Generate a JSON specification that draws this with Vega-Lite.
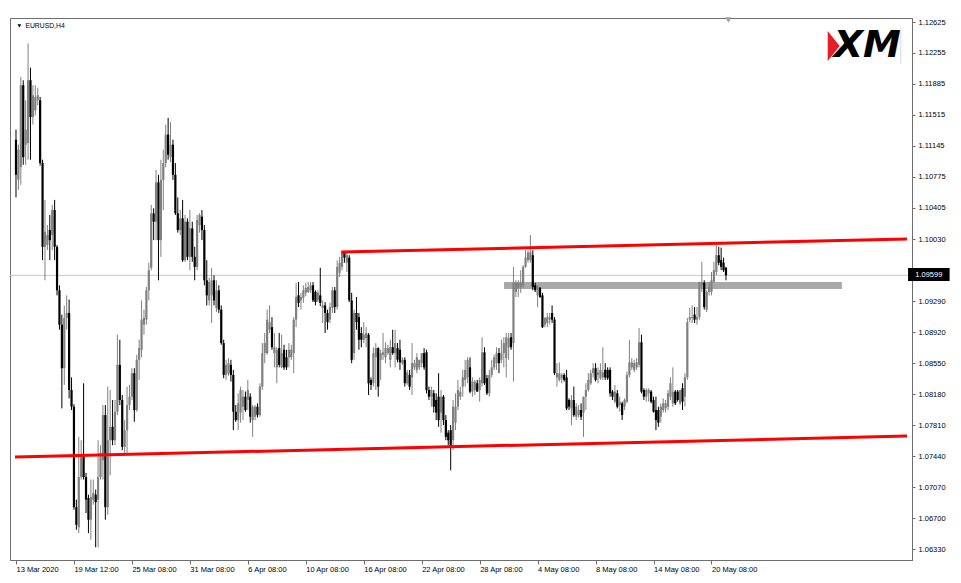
{
  "$schema": "https://vega.github.io/schema/vega-lite/v6.json",
  "width": 902,
  "height": 542,
  "autosize": "none",
  "padding": {"left": 10, "top": 18, "right": 49, "bottom": 23},
  "background": "white",
  "config": {
    "view": {"stroke": "#6e6e6e", "strokeWidth": 1},
    "font": "Liberation Sans",
    "axis": {"labelOverlap": false, "labelFlush": false, "grid": false, "title": null, "labelFont": "Liberation Sans", "labelFontSize": 7.5, "labelColor": "#000000", "domainColor": "#6e6e6e", "tickColor": "#6e6e6e"}
  },
  "datasets": {
    "candles": [
      {"i":0,"o":1.1122,"h":1.1134,"l":1.1053,"c":1.1080},
      {"i":1,"o":1.1074,"h":1.1116,"l":1.1062,"c":1.1110},
      {"i":2,"o":1.1089,"h":1.1197,"l":1.1068,"c":1.1187},
      {"i":3,"o":1.1187,"h":1.1193,"l":1.1092,"c":1.1101},
      {"i":4,"o":1.1116,"h":1.1169,"l":1.1092,"c":1.1134},
      {"i":5,"o":1.1118,"h":1.1237,"l":1.1098,"c":1.1193},
      {"i":6,"o":1.1193,"h":1.1208,"l":1.1098,"c":1.1149},
      {"i":7,"o":1.1149,"h":1.1187,"l":1.1140,"c":1.1175},
      {"i":8,"o":1.1157,"h":1.1187,"l":1.1151,"c":1.1173},
      {"i":9,"o":1.1169,"h":1.1184,"l":1.1163,"c":1.1175},
      {"i":10,"o":1.1169,"h":1.1173,"l":1.1091,"c":1.1094},
      {"i":11,"o":1.1094,"h":1.1098,"l":1.0978,"c":1.0994},
      {"i":12,"o":1.0994,"h":1.1050,"l":1.0954,"c":1.1012},
      {"i":13,"o":1.0996,"h":1.1020,"l":1.0990,"c":1.1008},
      {"i":14,"o":1.1014,"h":1.1032,"l":1.0978,"c":1.1002},
      {"i":15,"o":1.1008,"h":1.1044,"l":1.0990,"c":1.1038},
      {"i":16,"o":1.1038,"h":1.1050,"l":1.0978,"c":1.0994},
      {"i":17,"o":1.0994,"h":1.0996,"l":1.0936,"c":1.0942},
      {"i":18,"o":1.0942,"h":1.0948,"l":1.0895,"c":1.0901},
      {"i":19,"o":1.0901,"h":1.0913,"l":1.0801,"c":1.0849},
      {"i":20,"o":1.0849,"h":1.0924,"l":1.0829,"c":1.0909},
      {"i":21,"o":1.0909,"h":1.0936,"l":1.0895,"c":1.0915},
      {"i":22,"o":1.0915,"h":1.0931,"l":1.0813,"c":1.0823},
      {"i":23,"o":1.0823,"h":1.0838,"l":1.0799,"c":1.0803},
      {"i":24,"o":1.0803,"h":1.0806,"l":1.0680,"c":1.0683},
      {"i":25,"o":1.0683,"h":1.0692,"l":1.0656,"c":1.0662},
      {"i":26,"o":1.0659,"h":1.0767,"l":1.0652,"c":1.0719},
      {"i":27,"o":1.0719,"h":1.0763,"l":1.0716,"c":1.0745},
      {"i":28,"o":1.0745,"h":1.0831,"l":1.0716,"c":1.0719},
      {"i":29,"o":1.0719,"h":1.0724,"l":1.0676,"c":1.0692},
      {"i":30,"o":1.0694,"h":1.0698,"l":1.0652,"c":1.0668},
      {"i":31,"o":1.0668,"h":1.0716,"l":1.0644,"c":1.0695},
      {"i":32,"o":1.0692,"h":1.0716,"l":1.0686,"c":1.0700},
      {"i":33,"o":1.0698,"h":1.0704,"l":1.0635,"c":1.0689},
      {"i":34,"o":1.0692,"h":1.0763,"l":1.0635,"c":1.0719},
      {"i":35,"o":1.0719,"h":1.0757,"l":1.0716,"c":1.0748},
      {"i":36,"o":1.0739,"h":1.0805,"l":1.0716,"c":1.0793},
      {"i":37,"o":1.0793,"h":1.0805,"l":1.0668,"c":1.0683},
      {"i":38,"o":1.0683,"h":1.0827,"l":1.0674,"c":1.0763},
      {"i":39,"o":1.0763,"h":1.0823,"l":1.0721,"c":1.0779},
      {"i":40,"o":1.0779,"h":1.0811,"l":1.0757,"c":1.0763},
      {"i":41,"o":1.0763,"h":1.0811,"l":1.0757,"c":1.0797},
      {"i":42,"o":1.0797,"h":1.0889,"l":1.0793,"c":1.0853},
      {"i":43,"o":1.0853,"h":1.0883,"l":1.0805,"c":1.0811},
      {"i":44,"o":1.0811,"h":1.0817,"l":1.0751,"c":1.0755},
      {"i":45,"o":1.0755,"h":1.0787,"l":1.0745,"c":1.0775},
      {"i":46,"o":1.0775,"h":1.0827,"l":1.0748,"c":1.0805},
      {"i":47,"o":1.0805,"h":1.0829,"l":1.0799,"c":1.0815},
      {"i":48,"o":1.0815,"h":1.0849,"l":1.0811,"c":1.0843},
      {"i":49,"o":1.0843,"h":1.0849,"l":1.0785,"c":1.0799},
      {"i":50,"o":1.0799,"h":1.0865,"l":1.0797,"c":1.0859},
      {"i":51,"o":1.0859,"h":1.0883,"l":1.0835,"c":1.0873},
      {"i":52,"o":1.0871,"h":1.0930,"l":1.0862,"c":1.0907},
      {"i":53,"o":1.0901,"h":1.0919,"l":1.0889,"c":1.0909},
      {"i":54,"o":1.0907,"h":1.0946,"l":1.0901,"c":1.0942},
      {"i":55,"o":1.0942,"h":1.0975,"l":1.0930,"c":1.0966},
      {"i":56,"o":1.0969,"h":1.1044,"l":1.0966,"c":1.1034},
      {"i":57,"o":1.1034,"h":1.1040,"l":1.1002,"c":1.1024},
      {"i":58,"o":1.1024,"h":1.1086,"l":1.1002,"c":1.1071},
      {"i":59,"o":1.1071,"h":1.1080,"l":1.0954,"c":1.1002},
      {"i":60,"o":1.1002,"h":1.1098,"l":1.0982,"c":1.1074},
      {"i":61,"o":1.1074,"h":1.1110,"l":1.1038,"c":1.1094},
      {"i":62,"o":1.1094,"h":1.1140,"l":1.1089,"c":1.1128},
      {"i":63,"o":1.1128,"h":1.1148,"l":1.1098,"c":1.1104},
      {"i":64,"o":1.1101,"h":1.1143,"l":1.1095,"c":1.1116},
      {"i":65,"o":1.1116,"h":1.1122,"l":1.1074,"c":1.1080},
      {"i":66,"o":1.1080,"h":1.1094,"l":1.1032,"c":1.1034},
      {"i":67,"o":1.1034,"h":1.1053,"l":1.1011,"c":1.1014},
      {"i":68,"o":1.1014,"h":1.1038,"l":1.1008,"c":1.1028},
      {"i":69,"o":1.1028,"h":1.1050,"l":1.0976,"c":1.0978},
      {"i":70,"o":1.0978,"h":1.1032,"l":1.0976,"c":1.1024},
      {"i":71,"o":1.1024,"h":1.1028,"l":1.0978,"c":1.0982},
      {"i":72,"o":1.0982,"h":1.1038,"l":1.0966,"c":1.1016},
      {"i":73,"o":1.1016,"h":1.1024,"l":1.0976,"c":1.0982},
      {"i":74,"o":1.0982,"h":1.0994,"l":1.0954,"c":1.0970},
      {"i":75,"o":1.0970,"h":1.1032,"l":1.0966,"c":1.1026},
      {"i":76,"o":1.1020,"h":1.1034,"l":1.1011,"c":1.1032},
      {"i":77,"o":1.1030,"h":1.1038,"l":1.1002,"c":1.1014},
      {"i":78,"o":1.1014,"h":1.1020,"l":1.0948,"c":1.0954},
      {"i":79,"o":1.0954,"h":1.0978,"l":1.0924,"c":1.0936},
      {"i":80,"o":1.0930,"h":1.0957,"l":1.0924,"c":1.0952},
      {"i":81,"o":1.0936,"h":1.0969,"l":1.0903,"c":1.0954},
      {"i":82,"o":1.0954,"h":1.0960,"l":1.0924,"c":1.0930},
      {"i":83,"o":1.0921,"h":1.0954,"l":1.0916,"c":1.0942},
      {"i":84,"o":1.0942,"h":1.0948,"l":1.0915,"c":1.0919},
      {"i":85,"o":1.0919,"h":1.0924,"l":1.0877,"c":1.0879},
      {"i":86,"o":1.0879,"h":1.0883,"l":1.0837,"c":1.0841},
      {"i":87,"o":1.0841,"h":1.0859,"l":1.0835,"c":1.0853},
      {"i":88,"o":1.0843,"h":1.0861,"l":1.0840,"c":1.0855},
      {"i":89,"o":1.0853,"h":1.0859,"l":1.0833,"c":1.0841},
      {"i":90,"o":1.0841,"h":1.0847,"l":1.0775,"c":1.0797},
      {"i":91,"o":1.0797,"h":1.0805,"l":1.0785,"c":1.0787},
      {"i":92,"o":1.0787,"h":1.0819,"l":1.0775,"c":1.0807},
      {"i":93,"o":1.0796,"h":1.0827,"l":1.0784,"c":1.0823},
      {"i":94,"o":1.0803,"h":1.0823,"l":1.0787,"c":1.0815},
      {"i":95,"o":1.0815,"h":1.0821,"l":1.0797,"c":1.0799},
      {"i":96,"o":1.0811,"h":1.0835,"l":1.0799,"c":1.0823},
      {"i":97,"o":1.0815,"h":1.0819,"l":1.0784,"c":1.0791},
      {"i":98,"o":1.0787,"h":1.0805,"l":1.0767,"c":1.0803},
      {"i":99,"o":1.0791,"h":1.0805,"l":1.0787,"c":1.0803},
      {"i":100,"o":1.0803,"h":1.0807,"l":1.0790,"c":1.0793},
      {"i":101,"o":1.0793,"h":1.0831,"l":1.0791,"c":1.0827},
      {"i":102,"o":1.0827,"h":1.0879,"l":1.0823,"c":1.0867},
      {"i":103,"o":1.0867,"h":1.0891,"l":1.0855,"c":1.0879},
      {"i":104,"o":1.0867,"h":1.0919,"l":1.0865,"c":1.0907},
      {"i":105,"o":1.0895,"h":1.0924,"l":1.0891,"c":1.0904},
      {"i":106,"o":1.0898,"h":1.0910,"l":1.0871,"c":1.0874},
      {"i":107,"o":1.0867,"h":1.0891,"l":1.0850,"c":1.0874},
      {"i":108,"o":1.0850,"h":1.0874,"l":1.0831,"c":1.0871},
      {"i":109,"o":1.0873,"h":1.0891,"l":1.0850,"c":1.0853},
      {"i":110,"o":1.0850,"h":1.0889,"l":1.0849,"c":1.0867},
      {"i":111,"o":1.0871,"h":1.0877,"l":1.0847,"c":1.0850},
      {"i":112,"o":1.0862,"h":1.0871,"l":1.0847,"c":1.0850},
      {"i":113,"o":1.0862,"h":1.0879,"l":1.0850,"c":1.0871},
      {"i":114,"o":1.0862,"h":1.0877,"l":1.0859,"c":1.0871},
      {"i":115,"o":1.0867,"h":1.0910,"l":1.0843,"c":1.0907},
      {"i":116,"o":1.0907,"h":1.0951,"l":1.0898,"c":1.0934},
      {"i":117,"o":1.0936,"h":1.0952,"l":1.0922,"c":1.0927},
      {"i":118,"o":1.0930,"h":1.0939,"l":1.0919,"c":1.0934},
      {"i":119,"o":1.0933,"h":1.0948,"l":1.0927,"c":1.0942},
      {"i":120,"o":1.0939,"h":1.0951,"l":1.0935,"c":1.0945},
      {"i":121,"o":1.0940,"h":1.0952,"l":1.0939,"c":1.0946},
      {"i":122,"o":1.0942,"h":1.0952,"l":1.0939,"c":1.0948},
      {"i":123,"o":1.0948,"h":1.0952,"l":1.0928,"c":1.0930},
      {"i":124,"o":1.0940,"h":1.0942,"l":1.0924,"c":1.0928},
      {"i":125,"o":1.0930,"h":1.0942,"l":1.0928,"c":1.0939},
      {"i":126,"o":1.0936,"h":1.0969,"l":1.0923,"c":1.0927},
      {"i":127,"o":1.0921,"h":1.0930,"l":1.0903,"c":1.0924},
      {"i":128,"o":1.0924,"h":1.0928,"l":1.0891,"c":1.0915},
      {"i":129,"o":1.0915,"h":1.0919,"l":1.0895,"c":1.0904},
      {"i":130,"o":1.0907,"h":1.0927,"l":1.0903,"c":1.0922},
      {"i":131,"o":1.0921,"h":1.0946,"l":1.0915,"c":1.0942},
      {"i":132,"o":1.0942,"h":1.0946,"l":1.0915,"c":1.0922},
      {"i":133,"o":1.0922,"h":1.0978,"l":1.0919,"c":1.0970},
      {"i":134,"o":1.0963,"h":1.0982,"l":1.0958,"c":1.0975},
      {"i":135,"o":1.0970,"h":1.0988,"l":1.0966,"c":1.0987},
      {"i":136,"o":1.0987,"h":1.0988,"l":1.0975,"c":1.0981},
      {"i":137,"o":1.0975,"h":1.0987,"l":1.0964,"c":1.0984},
      {"i":138,"o":1.0981,"h":1.0984,"l":1.0928,"c":1.0930},
      {"i":139,"o":1.0930,"h":1.0939,"l":1.0855,"c":1.0859},
      {"i":140,"o":1.0867,"h":1.0919,"l":1.0859,"c":1.0915},
      {"i":141,"o":1.0915,"h":1.0934,"l":1.0895,"c":1.0904},
      {"i":142,"o":1.0910,"h":1.0915,"l":1.0871,"c":1.0883},
      {"i":143,"o":1.0891,"h":1.0898,"l":1.0874,"c":1.0883},
      {"i":144,"o":1.0883,"h":1.0904,"l":1.0879,"c":1.0889},
      {"i":145,"o":1.0885,"h":1.0898,"l":1.0874,"c":1.0891},
      {"i":146,"o":1.0889,"h":1.0891,"l":1.0817,"c":1.0831},
      {"i":147,"o":1.0835,"h":1.0838,"l":1.0823,"c":1.0829},
      {"i":148,"o":1.0831,"h":1.0874,"l":1.0827,"c":1.0867},
      {"i":149,"o":1.0862,"h":1.0879,"l":1.0823,"c":1.0873},
      {"i":150,"o":1.0873,"h":1.0874,"l":1.0815,"c":1.0827},
      {"i":151,"o":1.0859,"h":1.0871,"l":1.0835,"c":1.0867},
      {"i":152,"o":1.0865,"h":1.0891,"l":1.0859,"c":1.0868},
      {"i":153,"o":1.0862,"h":1.0880,"l":1.0855,"c":1.0873},
      {"i":154,"o":1.0867,"h":1.0877,"l":1.0865,"c":1.0873},
      {"i":155,"o":1.0859,"h":1.0883,"l":1.0850,"c":1.0874},
      {"i":156,"o":1.0874,"h":1.0895,"l":1.0865,"c":1.0867},
      {"i":157,"o":1.0867,"h":1.0895,"l":1.0850,"c":1.0879},
      {"i":158,"o":1.0873,"h":1.0879,"l":1.0856,"c":1.0859},
      {"i":159,"o":1.0871,"h":1.0883,"l":1.0847,"c":1.0856},
      {"i":160,"o":1.0855,"h":1.0862,"l":1.0853,"c":1.0859},
      {"i":161,"o":1.0859,"h":1.0862,"l":1.0827,"c":1.0831},
      {"i":162,"o":1.0831,"h":1.0847,"l":1.0829,"c":1.0844},
      {"i":163,"o":1.0841,"h":1.0847,"l":1.0823,"c":1.0827},
      {"i":164,"o":1.0838,"h":1.0879,"l":1.0817,"c":1.0855},
      {"i":165,"o":1.0850,"h":1.0859,"l":1.0847,"c":1.0855},
      {"i":166,"o":1.0847,"h":1.0867,"l":1.0843,"c":1.0862},
      {"i":167,"o":1.0850,"h":1.0859,"l":1.0847,"c":1.0859},
      {"i":168,"o":1.0855,"h":1.0867,"l":1.0850,"c":1.0867},
      {"i":169,"o":1.0867,"h":1.0873,"l":1.0847,"c":1.0850},
      {"i":170,"o":1.0868,"h":1.0871,"l":1.0819,"c":1.0823},
      {"i":171,"o":1.0823,"h":1.0827,"l":1.0811,"c":1.0815},
      {"i":172,"o":1.0815,"h":1.0827,"l":1.0803,"c":1.0823},
      {"i":173,"o":1.0819,"h":1.0823,"l":1.0796,"c":1.0803},
      {"i":174,"o":1.0811,"h":1.0819,"l":1.0787,"c":1.0796},
      {"i":175,"o":1.0815,"h":1.0843,"l":1.0779,"c":1.0787},
      {"i":176,"o":1.0796,"h":1.0823,"l":1.0772,"c":1.0815},
      {"i":177,"o":1.0815,"h":1.0817,"l":1.0781,"c":1.0787},
      {"i":178,"o":1.0787,"h":1.0793,"l":1.0763,"c":1.0767},
      {"i":179,"o":1.0772,"h":1.0775,"l":1.0757,"c":1.0763},
      {"i":180,"o":1.0775,"h":1.0781,"l":1.0727,"c":1.0755},
      {"i":181,"o":1.0763,"h":1.0811,"l":1.0751,"c":1.0803},
      {"i":182,"o":1.0784,"h":1.0819,"l":1.0775,"c":1.0803},
      {"i":183,"o":1.0803,"h":1.0835,"l":1.0799,"c":1.0823},
      {"i":184,"o":1.0815,"h":1.0827,"l":1.0811,"c":1.0821},
      {"i":185,"o":1.0827,"h":1.0847,"l":1.0815,"c":1.0838},
      {"i":186,"o":1.0835,"h":1.0859,"l":1.0827,"c":1.0847},
      {"i":187,"o":1.0838,"h":1.0862,"l":1.0831,"c":1.0859},
      {"i":188,"o":1.0850,"h":1.0862,"l":1.0819,"c":1.0821},
      {"i":189,"o":1.0821,"h":1.0838,"l":1.0815,"c":1.0833},
      {"i":190,"o":1.0823,"h":1.0835,"l":1.0817,"c":1.0833},
      {"i":191,"o":1.0831,"h":1.0835,"l":1.0821,"c":1.0821},
      {"i":192,"o":1.0823,"h":1.0838,"l":1.0809,"c":1.0835},
      {"i":193,"o":1.0831,"h":1.0886,"l":1.0827,"c":1.0868},
      {"i":194,"o":1.0868,"h":1.0874,"l":1.0829,"c":1.0831},
      {"i":195,"o":1.0837,"h":1.0841,"l":1.0817,"c":1.0819},
      {"i":196,"o":1.0819,"h":1.0847,"l":1.0815,"c":1.0841},
      {"i":197,"o":1.0841,"h":1.0859,"l":1.0838,"c":1.0850},
      {"i":198,"o":1.0850,"h":1.0865,"l":1.0847,"c":1.0862},
      {"i":199,"o":1.0855,"h":1.0874,"l":1.0847,"c":1.0867},
      {"i":200,"o":1.0867,"h":1.0873,"l":1.0843,"c":1.0855},
      {"i":201,"o":1.0859,"h":1.0883,"l":1.0855,"c":1.0867},
      {"i":202,"o":1.0867,"h":1.0886,"l":1.0850,"c":1.0879},
      {"i":203,"o":1.0861,"h":1.0891,"l":1.0838,"c":1.0886},
      {"i":204,"o":1.0874,"h":1.0891,"l":1.0859,"c":1.0885},
      {"i":205,"o":1.0886,"h":1.0891,"l":1.0871,"c":1.0874},
      {"i":206,"o":1.0879,"h":1.0970,"l":1.0833,"c":1.0951},
      {"i":207,"o":1.0940,"h":1.0954,"l":1.0934,"c":1.0951},
      {"i":208,"o":1.0945,"h":1.0954,"l":1.0934,"c":1.0951},
      {"i":209,"o":1.0946,"h":1.0966,"l":1.0939,"c":1.0951},
      {"i":210,"o":1.0948,"h":1.0972,"l":1.0945,"c":1.0970},
      {"i":211,"o":1.0970,"h":1.0990,"l":1.0969,"c":1.0981},
      {"i":212,"o":1.0978,"h":1.0990,"l":1.0975,"c":1.0987},
      {"i":213,"o":1.0978,"h":1.1008,"l":1.0975,"c":1.0988},
      {"i":214,"o":1.0984,"h":1.0990,"l":1.0942,"c":1.0946},
      {"i":215,"o":1.0948,"h":1.0951,"l":1.0940,"c":1.0942},
      {"i":216,"o":1.0936,"h":1.0948,"l":1.0922,"c":1.0946},
      {"i":217,"o":1.0945,"h":1.0946,"l":1.0933,"c":1.0934},
      {"i":218,"o":1.0936,"h":1.0939,"l":1.0897,"c":1.0898},
      {"i":219,"o":1.0901,"h":1.0910,"l":1.0898,"c":1.0909},
      {"i":220,"o":1.0903,"h":1.0915,"l":1.0898,"c":1.0910},
      {"i":221,"o":1.0907,"h":1.0915,"l":1.0901,"c":1.0910},
      {"i":222,"o":1.0915,"h":1.0924,"l":1.0903,"c":1.0907},
      {"i":223,"o":1.0907,"h":1.0910,"l":1.0841,"c":1.0843},
      {"i":224,"o":1.0838,"h":1.0855,"l":1.0827,"c":1.0843},
      {"i":225,"o":1.0835,"h":1.0856,"l":1.0833,"c":1.0843},
      {"i":226,"o":1.0837,"h":1.0843,"l":1.0831,"c":1.0841},
      {"i":227,"o":1.0841,"h":1.0843,"l":1.0833,"c":1.0835},
      {"i":228,"o":1.0838,"h":1.0847,"l":1.0799,"c":1.0801},
      {"i":229,"o":1.0811,"h":1.0813,"l":1.0799,"c":1.0803},
      {"i":230,"o":1.0801,"h":1.0817,"l":1.0781,"c":1.0811},
      {"i":231,"o":1.0811,"h":1.0827,"l":1.0791,"c":1.0793},
      {"i":232,"o":1.0791,"h":1.0807,"l":1.0787,"c":1.0803},
      {"i":233,"o":1.0793,"h":1.0805,"l":1.0790,"c":1.0799},
      {"i":234,"o":1.0799,"h":1.0807,"l":1.0787,"c":1.0791},
      {"i":235,"o":1.0796,"h":1.0815,"l":1.0767,"c":1.0815},
      {"i":236,"o":1.0815,"h":1.0831,"l":1.0799,"c":1.0823},
      {"i":237,"o":1.0823,"h":1.0843,"l":1.0821,"c":1.0835},
      {"i":238,"o":1.0831,"h":1.0847,"l":1.0829,"c":1.0843},
      {"i":239,"o":1.0843,"h":1.0855,"l":1.0838,"c":1.0849},
      {"i":240,"o":1.0849,"h":1.0855,"l":1.0833,"c":1.0835},
      {"i":241,"o":1.0841,"h":1.0850,"l":1.0831,"c":1.0844},
      {"i":242,"o":1.0837,"h":1.0855,"l":1.0835,"c":1.0847},
      {"i":243,"o":1.0838,"h":1.0874,"l":1.0835,"c":1.0844},
      {"i":244,"o":1.0847,"h":1.0855,"l":1.0835,"c":1.0838},
      {"i":245,"o":1.0847,"h":1.0850,"l":1.0835,"c":1.0837},
      {"i":246,"o":1.0847,"h":1.0850,"l":1.0815,"c":1.0819},
      {"i":247,"o":1.0821,"h":1.0823,"l":1.0811,"c":1.0815},
      {"i":248,"o":1.0809,"h":1.0829,"l":1.0807,"c":1.0821},
      {"i":249,"o":1.0819,"h":1.0823,"l":1.0801,"c":1.0803},
      {"i":250,"o":1.0805,"h":1.0815,"l":1.0797,"c":1.0809},
      {"i":251,"o":1.0807,"h":1.0809,"l":1.0787,"c":1.0793},
      {"i":252,"o":1.0803,"h":1.0813,"l":1.0799,"c":1.0811},
      {"i":253,"o":1.0809,"h":1.0845,"l":1.0807,"c":1.0841},
      {"i":254,"o":1.0841,"h":1.0883,"l":1.0838,"c":1.0856},
      {"i":255,"o":1.0850,"h":1.0861,"l":1.0847,"c":1.0856},
      {"i":256,"o":1.0847,"h":1.0859,"l":1.0844,"c":1.0855},
      {"i":257,"o":1.0850,"h":1.0861,"l":1.0847,"c":1.0856},
      {"i":258,"o":1.0853,"h":1.0897,"l":1.0850,"c":1.0880},
      {"i":259,"o":1.0880,"h":1.0889,"l":1.0819,"c":1.0821},
      {"i":260,"o":1.0823,"h":1.0825,"l":1.0811,"c":1.0815},
      {"i":261,"o":1.0815,"h":1.0825,"l":1.0809,"c":1.0823},
      {"i":262,"o":1.0819,"h":1.0825,"l":1.0809,"c":1.0823},
      {"i":263,"o":1.0821,"h":1.0823,"l":1.0807,"c":1.0809},
      {"i":264,"o":1.0811,"h":1.0815,"l":1.0796,"c":1.0797},
      {"i":265,"o":1.0799,"h":1.0815,"l":1.0775,"c":1.0787},
      {"i":266,"o":1.0799,"h":1.0803,"l":1.0779,"c":1.0784},
      {"i":267,"o":1.0791,"h":1.0807,"l":1.0784,"c":1.0803},
      {"i":268,"o":1.0799,"h":1.0813,"l":1.0796,"c":1.0807},
      {"i":269,"o":1.0801,"h":1.0811,"l":1.0796,"c":1.0807},
      {"i":270,"o":1.0803,"h":1.0823,"l":1.0799,"c":1.0819},
      {"i":271,"o":1.0815,"h":1.0838,"l":1.0811,"c":1.0831},
      {"i":272,"o":1.0807,"h":1.0850,"l":1.0803,"c":1.0821},
      {"i":273,"o":1.0821,"h":1.0823,"l":1.0805,"c":1.0807},
      {"i":274,"o":1.0821,"h":1.0823,"l":1.0809,"c":1.0811},
      {"i":275,"o":1.0807,"h":1.0823,"l":1.0805,"c":1.0823},
      {"i":276,"o":1.0825,"h":1.0831,"l":1.0799,"c":1.0809},
      {"i":277,"o":1.0815,"h":1.0843,"l":1.0803,"c":1.0838},
      {"i":278,"o":1.0838,"h":1.0909,"l":1.0835,"c":1.0904},
      {"i":279,"o":1.0907,"h":1.0921,"l":1.0904,"c":1.0910},
      {"i":280,"o":1.0909,"h":1.0924,"l":1.0903,"c":1.0910},
      {"i":281,"o":1.0913,"h":1.0922,"l":1.0903,"c":1.0907},
      {"i":282,"o":1.0907,"h":1.0922,"l":1.0901,"c":1.0910},
      {"i":283,"o":1.0910,"h":1.0952,"l":1.0907,"c":1.0952},
      {"i":284,"o":1.0948,"h":1.0976,"l":1.0940,"c":1.0952},
      {"i":285,"o":1.0951,"h":1.0954,"l":1.0919,"c":1.0922},
      {"i":286,"o":1.0919,"h":1.0942,"l":1.0916,"c":1.0940},
      {"i":287,"o":1.0940,"h":1.0952,"l":1.0936,"c":1.0946},
      {"i":288,"o":1.0940,"h":1.0964,"l":1.0936,"c":1.0954},
      {"i":289,"o":1.0952,"h":1.0976,"l":1.0951,"c":1.0966},
      {"i":290,"o":1.0964,"h":1.0996,"l":1.0960,"c":1.0984},
      {"i":291,"o":1.0984,"h":1.0994,"l":1.0972,"c":1.0975},
      {"i":292,"o":1.0978,"h":1.0993,"l":1.0966,"c":1.0970},
      {"i":293,"o":1.0975,"h":1.0981,"l":1.0964,"c":1.0966},
      {"i":294,"o":1.0969,"h":1.0970,"l":1.0954,"c":1.0960}
    ]
  },
  "layer": [
    {
      "data": {"values": [{}]},
      "mark": {"type": "rule", "color": "#c8c8c8", "strokeWidth": 1},
      "encoding": {
        "y": {
          "datum": 1.09599, "type": "quantitative",
          "scale": {"domain": [1.06199, 1.12673], "nice": false, "zero": false},
          "axis": {
            "orient": "right",
            "values": [1.0633, 1.067, 1.0707, 1.0744, 1.0781, 1.0818, 1.0855, 1.0892, 1.0929, 1.0966, 1.1003, 1.10405, 1.10775, 1.11145, 1.11515, 1.11885, 1.12255, 1.12625],
            "tickCount": 40,
            "format": ".5f", "tickSize": 3, "labelPadding": 3, "labelOverlap": false
          }
        }
      }
    },
    {
      "data": {"values": [{}]},
      "mark": {"type": "rect", "color": "#a9a9a9"},
      "encoding": {
        "x": {
          "datum": 202.1, "type": "quantitative",
          "scale": {"domain": [-0.41, 368.96], "nice": false, "zero": false},
          "axis": {
            "values": [0, 24, 48, 72, 96, 120, 144, 168, 192, 216, 240, 264, 288],
            "tickCount": 40,
            "labelExpr": "['13 Mar 2020','19 Mar 12:00','25 Mar 08:00','31 Mar 08:00','6 Apr 08:00','10 Apr 08:00','16 Apr 08:00','22 Apr 08:00','28 Apr 08:00','4 May 08:00','8 May 08:00','14 May 08:00','20 May 08:00'][round(datum.value/24)]",
            "labelAlign": "left", "labelBaseline": "top", "labelPadding": 1, "tickSize": 4, "labelOverlap": false
          }
        },
        "x2": {"datum": 342.0},
        "y": {"datum": 1.0952, "type": "quantitative"},
        "y2": {"datum": 1.09436}
      }
    },
    {
      "data": {"name": "candles"},
      "mark": {"type": "rule", "strokeWidth": 1},
      "encoding": {
        "x": {"field": "i", "type": "quantitative"},
        "y": {"field": "l", "type": "quantitative"},
        "y2": {"field": "h"},
        "color": {"condition": {"test": "datum.c > datum.o", "value": "#808080"}, "value": "#000000"}
      }
    },
    {
      "data": {"name": "candles"},
      "mark": {"type": "bar", "size": 2.2},
      "encoding": {
        "x": {"field": "i", "type": "quantitative"},
        "y": {"field": "o", "type": "quantitative"},
        "y2": {"field": "c"},
        "color": {"condition": {"test": "datum.c > datum.o", "value": "#808080"}, "value": "#000000"}
      }
    },
    {
      "data": {"values": [{}]},
      "mark": {"type": "rule", "color": "#ff0000", "strokeWidth": 3},
      "encoding": {
        "x": {"datum": 134.7, "type": "quantitative"},
        "x2": {"datum": 368.96},
        "y": {"datum": 1.09878, "type": "quantitative"},
        "y2": {"datum": 1.10033}
      }
    },
    {
      "data": {"values": [{}]},
      "mark": {"type": "rule", "color": "#ff0000", "strokeWidth": 3},
      "encoding": {
        "x": {"datum": -0.41, "type": "quantitative"},
        "x2": {"datum": 368.96},
        "y": {"datum": 1.07429, "type": "quantitative"},
        "y2": {"datum": 1.0768}
      }
    },
    {
      "data": {"values": [{}]},
      "mark": {"type": "rect", "color": "#000000"},
      "encoding": {
        "x": {"datum": 369.4, "type": "quantitative"},
        "x2": {"datum": 386.6},
        "y": {"datum": 1.09687, "type": "quantitative"},
        "y2": {"datum": 1.09531}
      }
    },
    {
      "data": {"values": [{}]},
      "mark": {"type": "text", "text": "1.09599", "color": "#ffffff", "font": "Liberation Sans", "fontSize": 7.5, "align": "center", "baseline": "middle"},
      "encoding": {
        "x": {"datum": 378, "type": "quantitative"},
        "y": {"datum": 1.09605, "type": "quantitative"}
      }
    },
    {
      "data": {"values": [{}]},
      "mark": {"type": "text", "text": "EURUSD,H4", "color": "#000000", "font": "Liberation Sans", "fontSize": 6.8, "align": "left", "baseline": "middle"},
      "encoding": {
        "x": {"datum": 3.9, "type": "quantitative"},
        "y": {"datum": 1.1258, "type": "quantitative"}
      }
    },
    {
      "data": {"values": [{}]},
      "mark": {"type": "point", "shape": "triangle-down", "filled": true, "color": "#000000", "size": 14, "opacity": 1},
      "encoding": {
        "x": {"datum": 1.4, "type": "quantitative"},
        "y": {"datum": 1.1258, "type": "quantitative"}
      }
    },
    {
      "data": {"values": [{}]},
      "mark": {"type": "point", "shape": "triangle-down", "filled": true, "color": "#a0a0a0", "size": 40, "opacity": 1},
      "encoding": {
        "x": {"datum": 295.0, "type": "quantitative"},
        "y": {"datum": 1.1265, "type": "quantitative"}
      }
    },
    {
      "data": {"values": [{}]},
      "mark": {"type": "point", "shape": "M -0.4 -1 L 0.4 0 L -0.4 1 Z", "filled": true, "color": "#e3202a", "size": 900, "opacity": 1},
      "encoding": {
        "x": {"datum": 338.6, "type": "quantitative"},
        "y": {"datum": 1.1234, "type": "quantitative"}
      }
    },
    {
      "data": {"values": [{}]},
      "mark": {"type": "text", "text": "XM", "color": "#000000", "font": "DejaVu Sans", "fontSize": 38, "fontWeight": "bold", "fontStyle": "italic", "align": "center", "baseline": "middle"},
      "encoding": {
        "x": {"datum": 352.5, "type": "quantitative"},
        "y": {"datum": 1.1234, "type": "quantitative"}
      }
    },
    {
      "data": {"values": [{}]},
      "mark": {"type": "rule", "color": "#d8d8d8", "strokeWidth": 1},
      "encoding": {
        "x": {"datum": 366.4, "type": "quantitative"},
        "y": {"datum": 1.1255, "type": "quantitative"},
        "y2": {"datum": 1.1213}
      }
    }
  ]
}
